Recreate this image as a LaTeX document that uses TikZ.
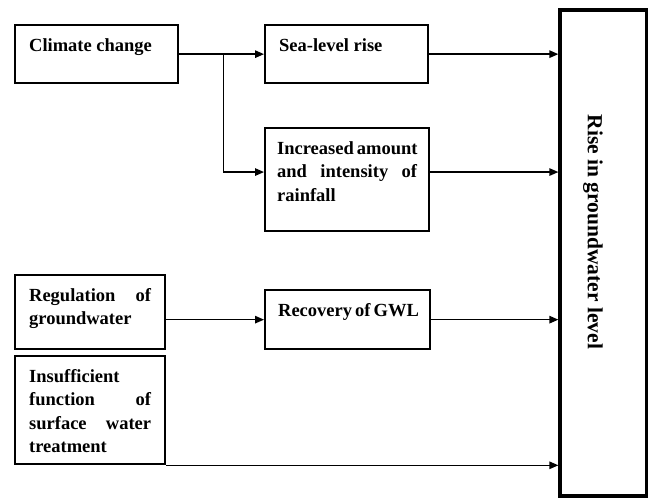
\documentclass[tikz,border=0pt]{standalone}
\usepackage{fontspec}
\setmainfont{Liberation Serif}
\usetikzlibrary{arrows.meta,calc}
\begin{document}
\begin{tikzpicture}
		[x=1bp,y=-1bp,
		box/.style={draw,line width=2.3bp,anchor=north west,inner xsep=14bp,inner ysep=0pt,
			text height=26bp,align=justify,font=\bfseries\fontsize{18.5bp}{23.5bp}\selectfont},
		bigbox/.style={draw,line width=3.3bp,anchor=north west,inner sep=0pt},
		arr/.style={line width=1.3bp,-{Triangle[length=9bp,width=7.5bp]}}]
		\useasboundingbox (0,0) rectangle (649,498);
		\node[box,name=climate,text width=135bp,text depth=32bp] at (14,24) {Climate change};
		\node[box,name=sealevel,text width=135bp,text depth=32bp] at (264,24) {Sea-level rise};
		\node[box,name=rainfall,inner xsep=12bp,text width=140bp,text depth=77bp] at (264,127)
		{Increased~amount\linebreak and intensity of\linebreak rainfall};
		\node[box,name=regulation,text width=122bp,text depth=48bp] at (14,274)
		{Regulation of\linebreak groundwater};
		\node[box,name=recovery,inner xsep=13bp,text width=139bp,text depth=33bp] at (264,289)
		{Recovery~of~GWL};
		\node[box,name=treatment,text width=122bp,text depth=82bp] at (14,355)
		{Insufficient\linebreak function of\linebreak surface water\linebreak treatment};
		\node[bigbox,name=rise,minimum width=86.5bp,minimum height=486bp] at (558.35,8.35) {};
		\node[name=risetext,rotate=-90,font=\bfseries\fontsize{21.5bp}{26bp}\selectfont]
		at (593,232) {Rise in groundwater level};
		\draw[arr] (climate.east) -- (sealevel.west);
		\draw[arr] ($(climate.east)+(44,0)$) |- ([yshift=7.6bp]rainfall.west);
		\draw[arr] (sealevel.east) -- (sealevel.east -| rise.west);
		\draw[arr] ([yshift=7.6bp]rainfall.east) -- ([yshift=7.6bp]rainfall.east -| rise.west);
		\draw[arr] (regulation.east |- recovery.west) -- (recovery.west);
		\draw[arr] (recovery.east) -- (recovery.east -| rise.west);
		\draw[arr] (treatment.south east) -- (treatment.south east -| rise.west);
\end{tikzpicture}
\end{document}
